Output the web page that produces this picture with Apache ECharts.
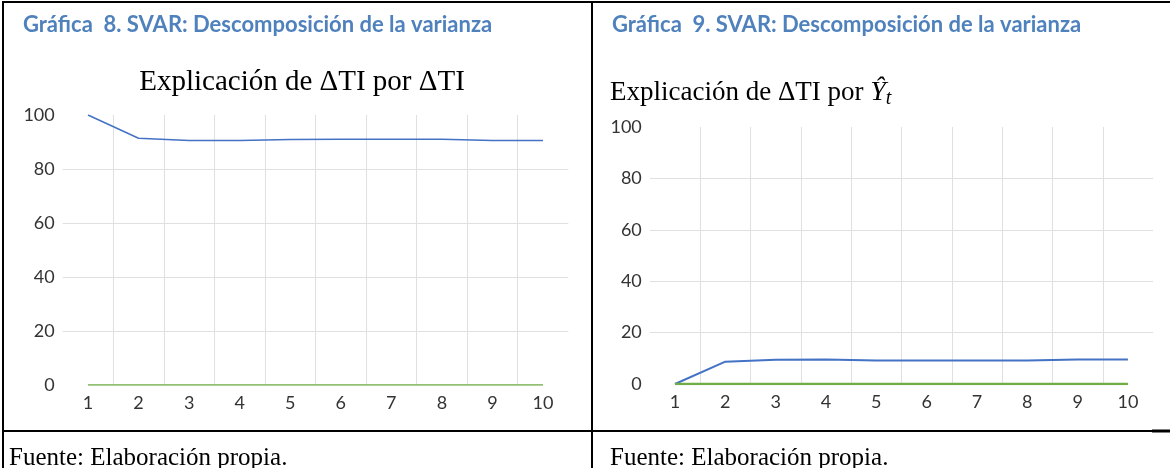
<!DOCTYPE html>
<html>
<head>
<meta charset="utf-8">
<title>SVAR: Descomposición de la varianza</title>
<script src="https://cdn.jsdelivr.net/npm/echarts@6/dist/echarts.min.js"></script>
<style>
  html, body { margin: 0; padding: 0; background: #fff; }
  #chart { width: 1170px; height: 468px; }
</style>
</head>
<body>
<div id="chart"></div>
<script>
// horizonte (periodos)
const periodos = ['1', '2', '3', '4', '5', '6', '7', '8', '9', '10'];
const yTicks = [0, 20, 40, 60, 80, 100];

// Gráfica 8: ΔTI explicada por ΔTI
const g8Azul = [100, 91.4, 90.6, 90.6, 90.9, 91.0, 91.0, 91.0, 90.6, 90.6];
const g8Verde = [0, 0, 0, 0, 0, 0, 0, 0, 0, 0];

// Gráfica 9: ΔTI explicada por Ŷt
const g9Azul = [0, 8.7, 9.4, 9.5, 9.1, 9.1, 9.1, 9.1, 9.5, 9.5];
const g9Verde = [0, 0, 0, 0, 0, 0, 0, 0, 0, 0];

const AZUL = '#4472C4';
const VERDE = '#70AD47';
const GRID_COLOR = '#E0E0E0';
const LABEL_FONT = 'Lato';

const chart = echarts.init(document.getElementById('chart'), null, { renderer: 'canvas' });

const makeX = (gridIndex) => ({
    type: 'category',
    gridIndex,
    data: periodos,
    boundaryGap: true,
    axisLine: { show: false },
    axisTick: { show: false },
    axisLabel: { color: '#333', fontFamily: LABEL_FONT, fontSize: 18, margin: 9 },
    splitLine: {
        show: true,
        showMinLine: false,
        showMaxLine: false,
        lineStyle: { color: GRID_COLOR, width: 1 }
    }
});

const makeY = (gridIndex) => ({
    type: 'value',
    gridIndex,
    min: yTicks[0],
    max: yTicks[yTicks.length - 1],
    interval: yTicks[1] - yTicks[0],
    axisLine: { show: false },
    axisTick: { show: false },
    axisLabel: { color: '#333', fontFamily: LABEL_FONT, fontSize: 18, margin: 8 },
    splitLine: {
        show: true,
        showMinLine: false,
        showMaxLine: false,
        lineStyle: { color: GRID_COLOR, width: 1 }
    }
});

const makeLine = (data, color, width, idx) => ({
    type: 'line',
    xAxisIndex: idx,
    yAxisIndex: idx,
    data,
    symbol: 'none',
    silent: true,
    lineStyle: { color, width },
    itemStyle: { color }
});

const serif = { color: '#000', fontFamily: 'Liberation Serif', fontWeight: 'normal' };

const option = {
    animation: false,
    backgroundColor: '#fff',
    title: [
        {
            text: 'Gráfica  8. SVAR: Descomposición de la varianza',
            left: 18, top: 9,
            textStyle: { color: '#4F81BD', fontFamily: LABEL_FONT, fontWeight: 'bold', fontSize: 22 }
        },
        {
            text: 'Gráfica  9. SVAR: Descomposición de la varianza',
            left: 607, top: 9,
            textStyle: { color: '#4F81BD', fontFamily: LABEL_FONT, fontWeight: 'bold', fontSize: 22 }
        },
        {
            text: 'Explicación de ΔTI por ΔTI',
            left: 297, top: 63, textAlign: 'center',
            textStyle: Object.assign({ fontSize: 29 }, serif)
        },
        {
            text: '{a|Explicación de ΔTI por }{y|Ŷ}{t|t}',
            left: 605, top: 72,
            textStyle: {
                fontWeight: 'normal',
                rich: {
                    a: Object.assign({ fontSize: 27, lineHeight: 32, verticalAlign: 'middle' }, serif),
                    y: Object.assign({ fontStyle: 'italic', fontSize: 28, lineHeight: 32, verticalAlign: 'middle' }, serif),
                    t: Object.assign({ fontStyle: 'italic', fontSize: 20, lineHeight: 14, verticalAlign: 'bottom' }, serif)
                }
            }
        },
        {
            text: 'Fuente: Elaboración propia.',
            left: 4, top: 441,
            textStyle: Object.assign({ fontSize: 25 }, serif)
        },
        {
            text: 'Fuente: Elaboración propia.',
            left: 605, top: 441,
            textStyle: Object.assign({ fontSize: 25 }, serif)
        }
    ],
    grid: [
        { left: 62.7, top: 115, width: 505.6, height: 270 },
        { left: 649.8, top: 127, width: 503.3, height: 257 }
    ],
    xAxis: [makeX(0), makeX(1)],
    yAxis: [makeY(0), makeY(1)],
    series: [
        makeLine(g8Azul, AZUL, 1.5, 0),
        makeLine(g8Verde, VERDE, 1.5, 0),
        makeLine(g9Azul, AZUL, 2, 1),
        makeLine(g9Verde, VERDE, 2.5, 1)
    ],
    // bordes de la tabla
    graphic: [
        { type: 'line', shape: { x1: 3, y1: 2, x2: 1170, y2: 2 }, style: { stroke: '#000', lineWidth: 2 } },
        { type: 'line', shape: { x1: 3, y1: 1, x2: 3, y2: 468 }, style: { stroke: '#000', lineWidth: 2 } },
        { type: 'line', shape: { x1: 592, y1: 1, x2: 592, y2: 468 }, style: { stroke: '#000', lineWidth: 2 } },
        { type: 'line', shape: { x1: 3, y1: 431, x2: 1170, y2: 431 }, style: { stroke: '#000', lineWidth: 2 } },
        { type: 'line', shape: { x1: 1152, y1: 431, x2: 1170, y2: 431 }, style: { stroke: '#000', lineWidth: 3 } }
    ]
};

chart.setOption(option);
</script>
</body>
</html>
